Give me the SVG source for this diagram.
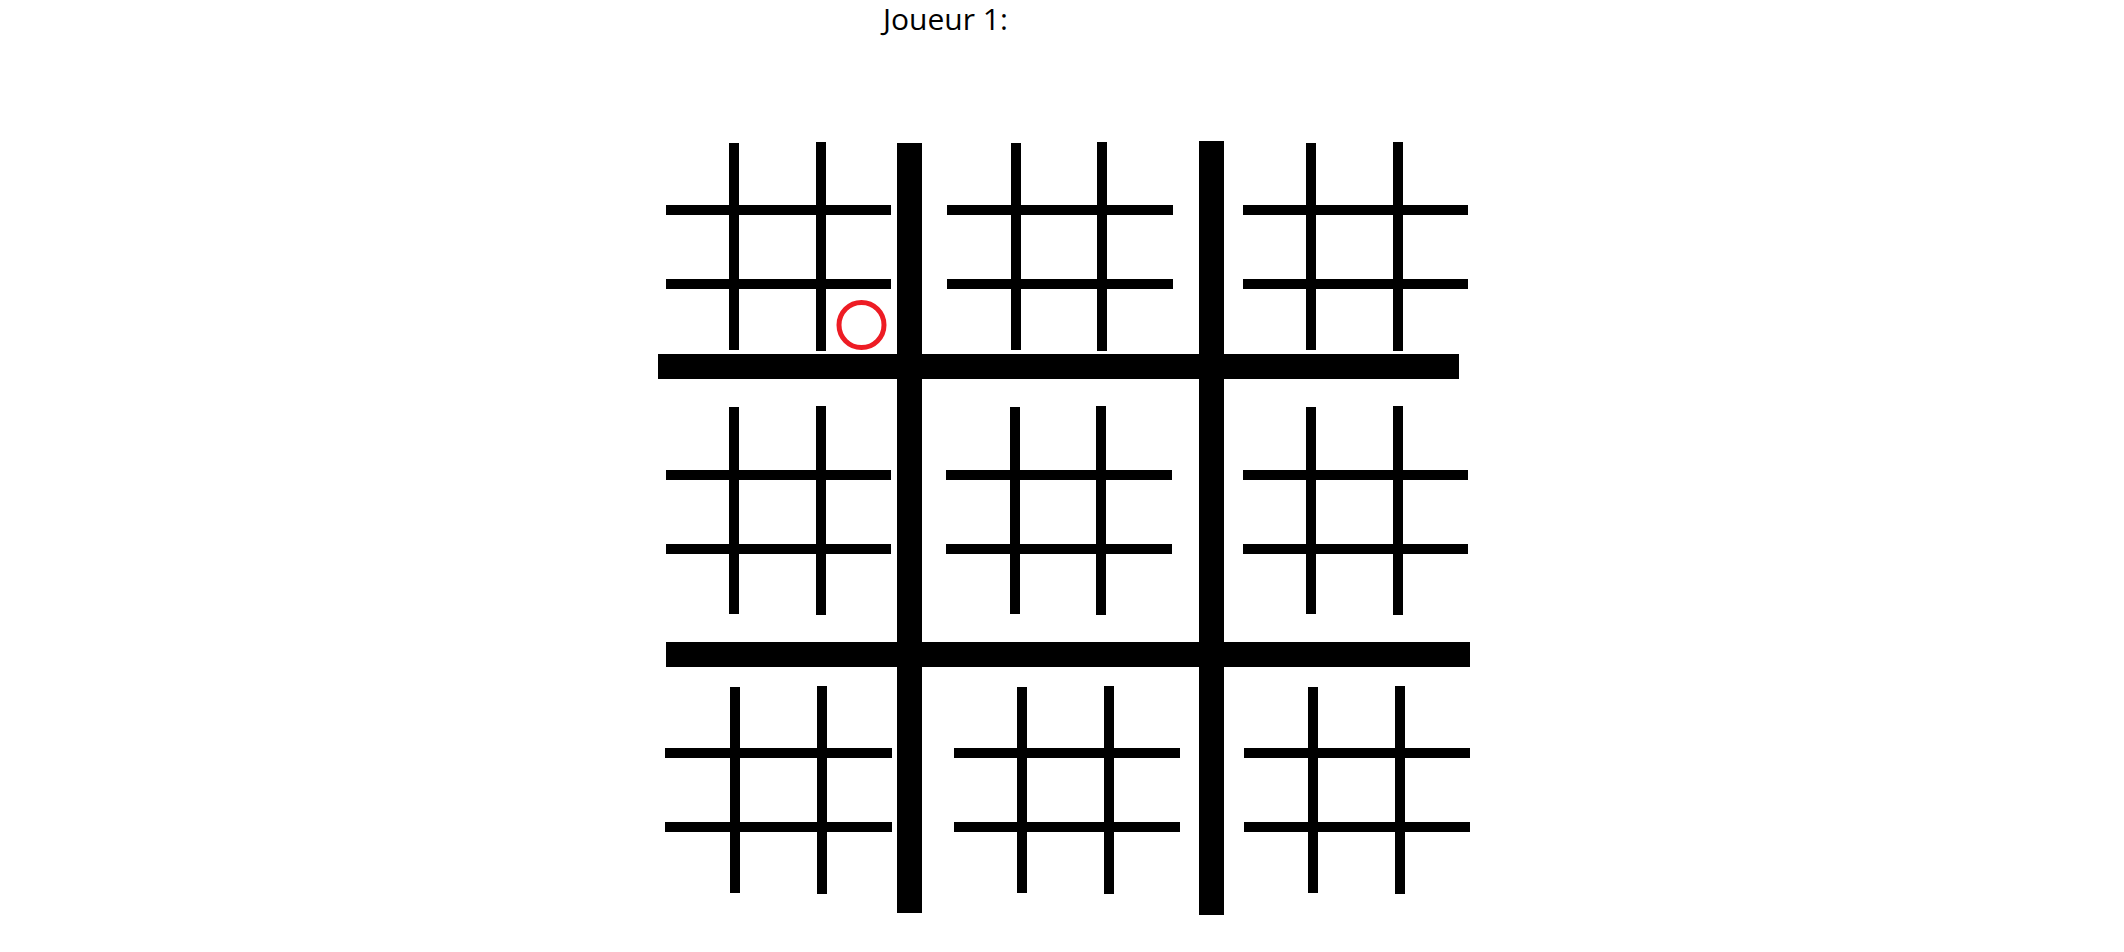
<svg xmlns="http://www.w3.org/2000/svg" width="2124" height="952" viewBox="0 0 2124 952">
<style>
.b{fill:#000}
.t{font-family:"Open Sans","Liberation Sans",sans-serif;font-size:30px;fill:#000}
.o{fill:none;stroke:#ED1C24;stroke-width:5}
</style>
<rect width="2124" height="952" fill="#fff"/>
<text id="title" class="t" x="883" y="30">Joueur 1:</text>
<g id="board">
<rect class="b" x="897" y="143" width="25" height="770"/>
<rect class="b" x="1199" y="141" width="25" height="774"/>
<rect class="b" x="658" y="354" width="801" height="25"/>
<rect class="b" x="666" y="642" width="804" height="25"/>
</g>
<g id="g11">
<rect class="b" x="729" y="143" width="10" height="207"/>
<rect class="b" x="816" y="142" width="10" height="209"/>
<rect class="b" x="666" y="205" width="225" height="10"/>
<rect class="b" x="666" y="279" width="225" height="10"/>
</g>
<g id="g12">
<rect class="b" x="1011" y="143" width="10" height="207"/>
<rect class="b" x="1097" y="142" width="10" height="209"/>
<rect class="b" x="947" y="205" width="226" height="10"/>
<rect class="b" x="947" y="279" width="226" height="10"/>
</g>
<g id="g13">
<rect class="b" x="1306" y="143" width="10" height="207"/>
<rect class="b" x="1393" y="142" width="10" height="209"/>
<rect class="b" x="1243" y="205" width="225" height="10"/>
<rect class="b" x="1243" y="279" width="225" height="10"/>
</g>
<g id="g21">
<rect class="b" x="729" y="407" width="10" height="207"/>
<rect class="b" x="816" y="406" width="10" height="209"/>
<rect class="b" x="666" y="470" width="225" height="10"/>
<rect class="b" x="666" y="544" width="225" height="10"/>
</g>
<g id="g22">
<rect class="b" x="1010" y="407" width="10" height="207"/>
<rect class="b" x="1096" y="406" width="10" height="209"/>
<rect class="b" x="946" y="470" width="226" height="10"/>
<rect class="b" x="946" y="544" width="226" height="10"/>
</g>
<g id="g23">
<rect class="b" x="1306" y="407" width="10" height="207"/>
<rect class="b" x="1393" y="406" width="10" height="209"/>
<rect class="b" x="1243" y="470" width="225" height="10"/>
<rect class="b" x="1243" y="544" width="225" height="10"/>
</g>
<g id="g31">
<rect class="b" x="730" y="687" width="10" height="206"/>
<rect class="b" x="817" y="686" width="10" height="208"/>
<rect class="b" x="665" y="748" width="227" height="10"/>
<rect class="b" x="665" y="822" width="227" height="10"/>
</g>
<g id="g32">
<rect class="b" x="1017" y="687" width="10" height="206"/>
<rect class="b" x="1104" y="686" width="10" height="208"/>
<rect class="b" x="954" y="748" width="226" height="10"/>
<rect class="b" x="954" y="822" width="226" height="10"/>
</g>
<g id="g33">
<rect class="b" x="1308" y="687" width="10" height="206"/>
<rect class="b" x="1395" y="686" width="10" height="208"/>
<rect class="b" x="1244" y="748" width="226" height="10"/>
<rect class="b" x="1244" y="822" width="226" height="10"/>
</g>
<g id="mark">
<circle class="o" cx="861.5" cy="325" r="22.5"/>
</g>
</svg>
